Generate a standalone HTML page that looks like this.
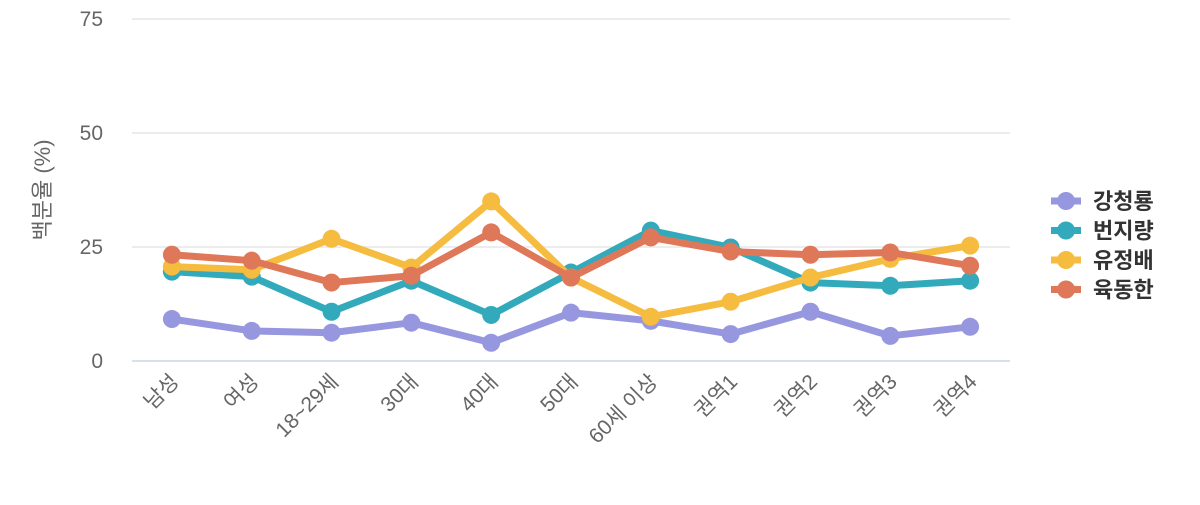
<!DOCTYPE html>
<html><head><meta charset="utf-8"><style>
body{margin:0;background:#fff;font-family:"Liberation Sans","Noto Sans CJK KR",sans-serif}
</style></head><body>
<svg id="chart" width="1200" height="500" xmlns="http://www.w3.org/2000/svg" style="font-family:'Liberation Sans','Noto Sans CJK KR',sans-serif"></svg>
<script>
const categories=["남성","여성","18~29세","30대","40대","50대","60세 이상","권역1","권역2","권역3","권역4"];
const seriesNames=["강청룡","번지량","유정배","육동한"];
const s1=[9.2,6.6,6.2,8.4,4.0,10.6,8.8,5.9,10.8,5.5,7.5];
const s2=[19.6,18.5,10.8,17.6,10.1,19.4,28.6,24.9,17.2,16.5,17.6];
const s3=[20.7,20.0,26.8,20.5,35.0,18.3,9.7,13.0,18.3,22.4,25.3];
const s4=[23.3,22.0,17.2,18.7,28.2,18.3,27.1,24.0,23.3,23.8,20.9];
const yTicks=[0,25,50,75];
const colors=["#9797e0","#33aabb","#f5bc40","#df7859"];
const NS="http://www.w3.org/2000/svg";
const svg=document.getElementById('chart');
const L=132,R=1010,T=19,B=361;
const step=(R-L)/categories.length;
const x=i=>L+step*(i+0.5);
const y=v=>B-(v/75)*(B-T);
function mk(t,a){const e=document.createElementNS(NS,t);for(const k in a)e.setAttribute(k,a[k]);svg.appendChild(e);return e;}
yTicks.forEach(v=>{
  const g=mk('line',{x1:L,x2:R,y1:y(v),y2:y(v),stroke:v===0?'#ccd6eb':'#e6e6e6','stroke-width':1.5});
  
  
  const t=mk('text',{x:103,y:y(v)+7,'text-anchor':'end','font-size':21,fill:'#666'});
  t.textContent=v;
  
  
});
const yt=mk('text',{x:0,y:0,transform:'translate(50,190) rotate(-90)','text-anchor':'middle','font-size':22,fill:'#666'});
yt.textContent='백분율 (%)';


categories.forEach((c,i)=>{
  const t=mk('text',{x:0,y:0,transform:`translate(${x(i)+8},${B+22}) rotate(-45)`,'text-anchor':'end','font-size':21,fill:'#666'});
  t.textContent=c;
  
  
});
[s1,s2,s3,s4].forEach((s,k)=>{
  const p=mk('polyline',{points:s.map((v,i)=>x(i)+','+y(v)).join(' '),fill:'none',stroke:colors[k],'stroke-width':7,'stroke-linejoin':'round'});
  
  
  s.forEach((v,i)=>{
    const c=mk('circle',{cx:x(i),cy:y(v),r:9,fill:colors[k]});
    
    
  });
});
seriesNames.forEach((n,k)=>{
  const yy=201+k*29.5;
  const l=mk('line',{x1:1051,x2:1081,y1:yy,y2:yy,stroke:colors[k],'stroke-width':7});
  
  
  const c=mk('circle',{cx:1066,cy:yy,r:9,fill:colors[k]});
  
  
  const t=mk('text',{x:1093,y:yy+8,'font-size':22,'font-weight':'bold',fill:'#333'});
  t.textContent=n;
  
  
});
</script>
</body></html>
